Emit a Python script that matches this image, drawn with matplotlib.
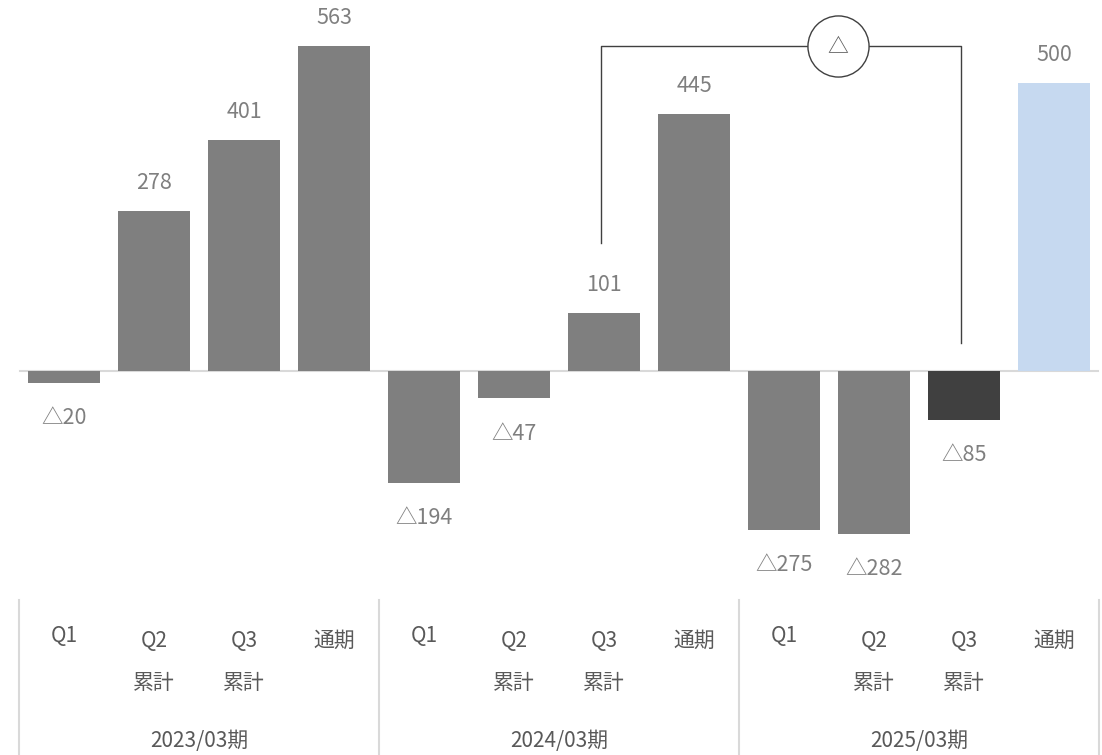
import matplotlib
matplotlib.use("Agg")
import matplotlib.pyplot as plt

plt.rcParams['font.family'] = ['Noto Sans CJK JP', 'DejaVu Sans']

# ---- data ----
values = [-20, 278, 401, 563, -194, -47, 101, 445, -275, -282, -85, 500]
quarter_labels = ["Q1", "Q2\n累計", "Q3\n累計", "通期"] * 3
periods = ["2023/03期", "2024/03期", "2025/03期"]
bar_colors = ["#7f7f7f"] * 10 + ["#404040", "#c6d9f0"]

W, H = 1102, 755
fig = plt.figure(figsize=(W / 100, H / 100), dpi=100)

# main axes: px 0..590 vertically
ax = fig.add_axes([0, (H - 590) / H, 1, 590 / H])
ax.set_xlim(-0.5 - 19 / 90, 11.5 + 3 / 90)
ax.set_ylim(-379.5, 643)
ax.axis("off")

x = list(range(len(values)))
ax.bar(x, values, width=0.8, color=bar_colors, zorder=2)
ax.plot([-0.5 + 1 / 90, 11.5 - 1 / 90], [0, 0], color="#d9d9d9", lw=1.5, zorder=1)

for xi, v in zip(x, values):
    txt = f"{v}" if v >= 0 else f"△{abs(v)}"
    if v >= 0:
        ax.annotate(txt, (xi, v), xytext=(0, 20), textcoords="offset points",
                    ha="center", va="center", fontsize=15.5, color="#7f7f7f")
    else:
        ax.annotate(txt, (xi, v), xytext=(0, -25.5), textcoords="offset points",
                    ha="center", va="center", fontsize=15.5, color="#7f7f7f")

# bracket between 2024/03 Q3 and 2025/03 Q3
lc = "#404040"
xl, xr = 6 - 3 / 90, 10 - 3 / 90
y_top = 563
ax.plot([xl, xl, xr, xr], [222, y_top, y_top, 48.5], color=lc, lw=1.0, zorder=3)
xc = 8.6
ax.plot([xc], [y_top], marker="o", markersize=44, markerfacecolor="white",
        markeredgecolor=lc, markeredgewidth=1.0, zorder=4)
ax.text(xc, y_top, "△", ha="center", va="center", fontsize=15, color="#595959", zorder=5)

# bottom table
bx = fig.add_axes([0, 0, 1, 165 / H])
bx.set_xlim(ax.get_xlim())
bx.set_ylim(755, 590)
bx.axis("off")
for xs in [-0.5, 3.5, 7.5, 11.5]:
    bx.plot([xs, xs], [600, 755], color="#d9d9d9", lw=1.5)
fs = 15
for xi, lab in zip(x, quarter_labels):
    if "\n" in lab:
        top, bot = lab.split("\n")
        bx.text(xi, 641, top, ha="center", va="center", fontsize=fs, color="#595959")
        bx.text(xi, 683, bot, ha="center", va="center", fontsize=fs, color="#595959")
    else:
        yy = 636 if lab.startswith("Q") else 641
        bx.text(xi, yy, lab, ha="center", va="center", fontsize=fs, color="#595959")
for i, p in enumerate(periods):
    bx.text(4 * i + 1.5, 741, p, ha="center", va="center", fontsize=fs, color="#595959")

fig.savefig("out.png", dpi=100)
